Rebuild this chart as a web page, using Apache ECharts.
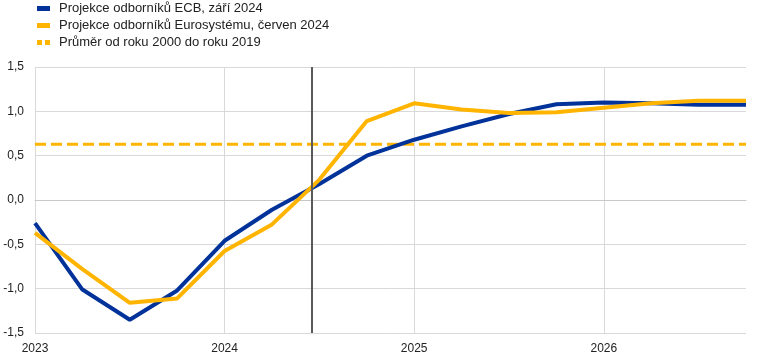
<!DOCTYPE html>
<html>
<head>
<meta charset="utf-8">
<script src="https://cdn.jsdelivr.net/npm/echarts@6/dist/echarts.min.js"></script>
<style>html,body{margin:0;padding:0;background:#fff;}#c{width:781px;height:361px;}</style>
</head>
<body>
<div id="c"></div>
<script>
const quarters = [2023.0, 2023.25, 2023.5, 2023.75, 2024.0, 2024.25, 2024.5, 2024.75,
                  2025.0, 2025.25, 2025.5, 2025.75, 2026.0, 2026.25, 2026.5, 2026.75];
const ecbSep2024 = [-0.26, -1.01, -1.35, -1.02, -0.46, -0.11, 0.18, 0.50,
                    0.68, 0.83, 0.97, 1.08, 1.10, 1.09, 1.075, 1.075];
const eurosysJun2024 = [-0.37, -0.78, -1.16, -1.11, -0.575, -0.275, 0.23, 0.89,
                        1.09, 1.02, 0.98, 0.99, 1.04, 1.09, 1.12, 1.12];
const avg2000to2019 = [0.63, 0.63, 0.63, 0.63, 0.63, 0.63, 0.63, 0.63,
                       0.63, 0.63, 0.63, 0.63, 0.63, 0.63, 0.63, 0.63];
const cutoff = 2024.46;
const names = ['Projekce odborníků ECB, září 2024', 'Projekce odborníků Eurosystému, červen 2024', 'Průměr od roku 2000 do roku 2019'];
const yTicks = [-1.5, -1.0, -0.5, 0.0, 0.5, 1.0, 1.5];

const pair = (arr) => quarters.map((q, i) => [q, arr[i]]);
const chart = echarts.init(document.getElementById('c'));
chart.setOption({
  animation: false,
  textStyle: { fontFamily: 'Liberation Sans, Arial, sans-serif' },
  legend: {
    orient: 'vertical', left: 37, top: 2, itemGap: 4, padding: 0,
    itemWidth: 13, itemHeight: 5,
    textStyle: { fontSize: 13, color: '#222', padding: [0, 0, 0, 4] },
    data: [
      { name: names[0], icon: 'rect' },
      { name: names[1], icon: 'rect' },
      { name: names[2], icon: 'path://M0,0h5v5h-5z M8,0h5v5h-5z' }
    ]
  },
  grid: { left: 35, right: 35, top: 67, bottom: 28 },
  xAxis: {
    type: 'value', min: 2023, max: 2026.75, interval: 1,
    axisLine: { show: true, lineStyle: { color: '#c8c8c8' } },
    axisTick: { show: false },
    axisLabel: { color: '#222', fontSize: 12, margin: 10, showMaxLabel: false, formatter: v => String(Math.round(v)) },
    splitLine: { show: true, showMaxLine: false, lineStyle: { color: '#d9d9d9' } }
  },
  yAxis: {
    type: 'value', min: -1.5, max: 1.5, interval: 0.5,
    axisLine: { show: false },
    axisTick: { show: false },
    axisLabel: { color: '#222', fontSize: 12, margin: 11, formatter: v => v.toFixed(1).replace('.', ',') },
    splitLine: { show: true, lineStyle: { color: '#d9d9d9' } }
  },
  series: [
    {
      name: names[2], type: 'line', data: pair(avg2000to2019), showSymbol: false, z: 1,
      lineStyle: { color: '#FFB400', width: 3, type: [11, 5] }, itemStyle: { color: '#FFB400' }
    },
    {
      name: names[0], type: 'line', data: pair(ecbSep2024), showSymbol: false, z: 3,
      lineStyle: { color: '#003299', width: 4 }, itemStyle: { color: '#003299' },
      markLine: {
        silent: true, symbol: 'none', label: { show: false },
        lineStyle: { color: '#595959', width: 2, type: 'solid' },
        data: [{ xAxis: cutoff }]
      }
    },
    {
      name: names[1], type: 'line', data: pair(eurosysJun2024), showSymbol: false, z: 4,
      lineStyle: { color: '#FFB400', width: 4 }, itemStyle: { color: '#FFB400' }
    }
  ]
});
</script>
</body>
</html>
